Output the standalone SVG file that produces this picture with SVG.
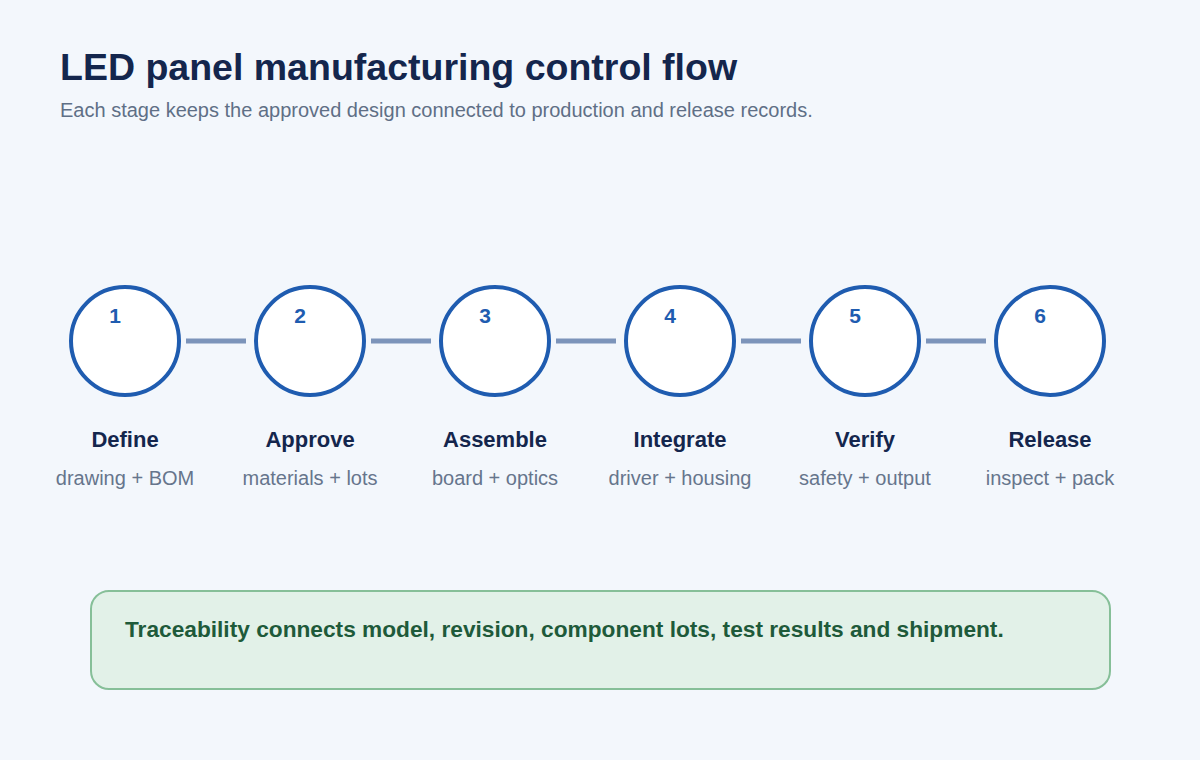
<svg xmlns="http://www.w3.org/2000/svg" width="1200" height="760" viewBox="0 0 1200 760">
<style>
.t{font-family:"Liberation Sans",Arial,sans-serif}
.c{fill:#fff;stroke:#1f5cb0;stroke-width:4}
.n{font-size:21px;font-weight:bold;fill:#1f5cb0;text-anchor:middle}
.l{font-size:22px;font-weight:bold;fill:#14264d;text-anchor:middle}
.s{font-size:20px;fill:#66758c;text-anchor:middle}
.e{stroke:#7c94ba;stroke-width:5}
</style>
<rect width="1200" height="760" fill="#f3f7fc"/>
<text class="t" x="60" y="80" font-size="37.5" font-weight="bold" fill="#14264d">LED panel manufacturing control flow</text>
<text class="t" x="60" y="117" font-size="20" fill="#5f6f86">Each stage keeps the approved design connected to production and release records.</text>
<g id="connectors">
<line class="e" x1="186" y1="341" x2="246" y2="341"/>
<line class="e" x1="371" y1="341" x2="431" y2="341"/>
<line class="e" x1="556" y1="341" x2="616" y2="341"/>
<line class="e" x1="741" y1="341" x2="801" y2="341"/>
<line class="e" x1="926" y1="341" x2="986" y2="341"/>
</g>
<g id="n1"><circle class="c" cx="125" cy="341" r="54"/><text class="t n" x="115" y="323">1</text><text class="t l" x="125" y="447">Define</text><text class="t s" x="125" y="485">drawing + BOM</text></g>
<g id="n2"><circle class="c" cx="310" cy="341" r="54"/><text class="t n" x="300" y="323">2</text><text class="t l" x="310" y="447">Approve</text><text class="t s" x="310" y="485">materials + lots</text></g>
<g id="n3"><circle class="c" cx="495" cy="341" r="54"/><text class="t n" x="485" y="323">3</text><text class="t l" x="495" y="447">Assemble</text><text class="t s" x="495" y="485">board + optics</text></g>
<g id="n4"><circle class="c" cx="680" cy="341" r="54"/><text class="t n" x="670" y="323">4</text><text class="t l" x="680" y="447">Integrate</text><text class="t s" x="680" y="485">driver + housing</text></g>
<g id="n5"><circle class="c" cx="865" cy="341" r="54"/><text class="t n" x="855" y="323">5</text><text class="t l" x="865" y="447">Verify</text><text class="t s" x="865" y="485">safety + output</text></g>
<g id="n6"><circle class="c" cx="1050" cy="341" r="54"/><text class="t n" x="1040" y="323">6</text><text class="t l" x="1050" y="447">Release</text><text class="t s" x="1050" y="485">inspect + pack</text></g>
<g id="note"><rect x="91" y="591" width="1019" height="98" rx="18" fill="#e2f1e8" stroke="#86bf98" stroke-width="2"/>
<text class="t" x="125" y="637" font-size="22.7" font-weight="bold" fill="#1e5a3a">Traceability connects model, revision, component lots, test results and shipment.</text></g>
</svg>
